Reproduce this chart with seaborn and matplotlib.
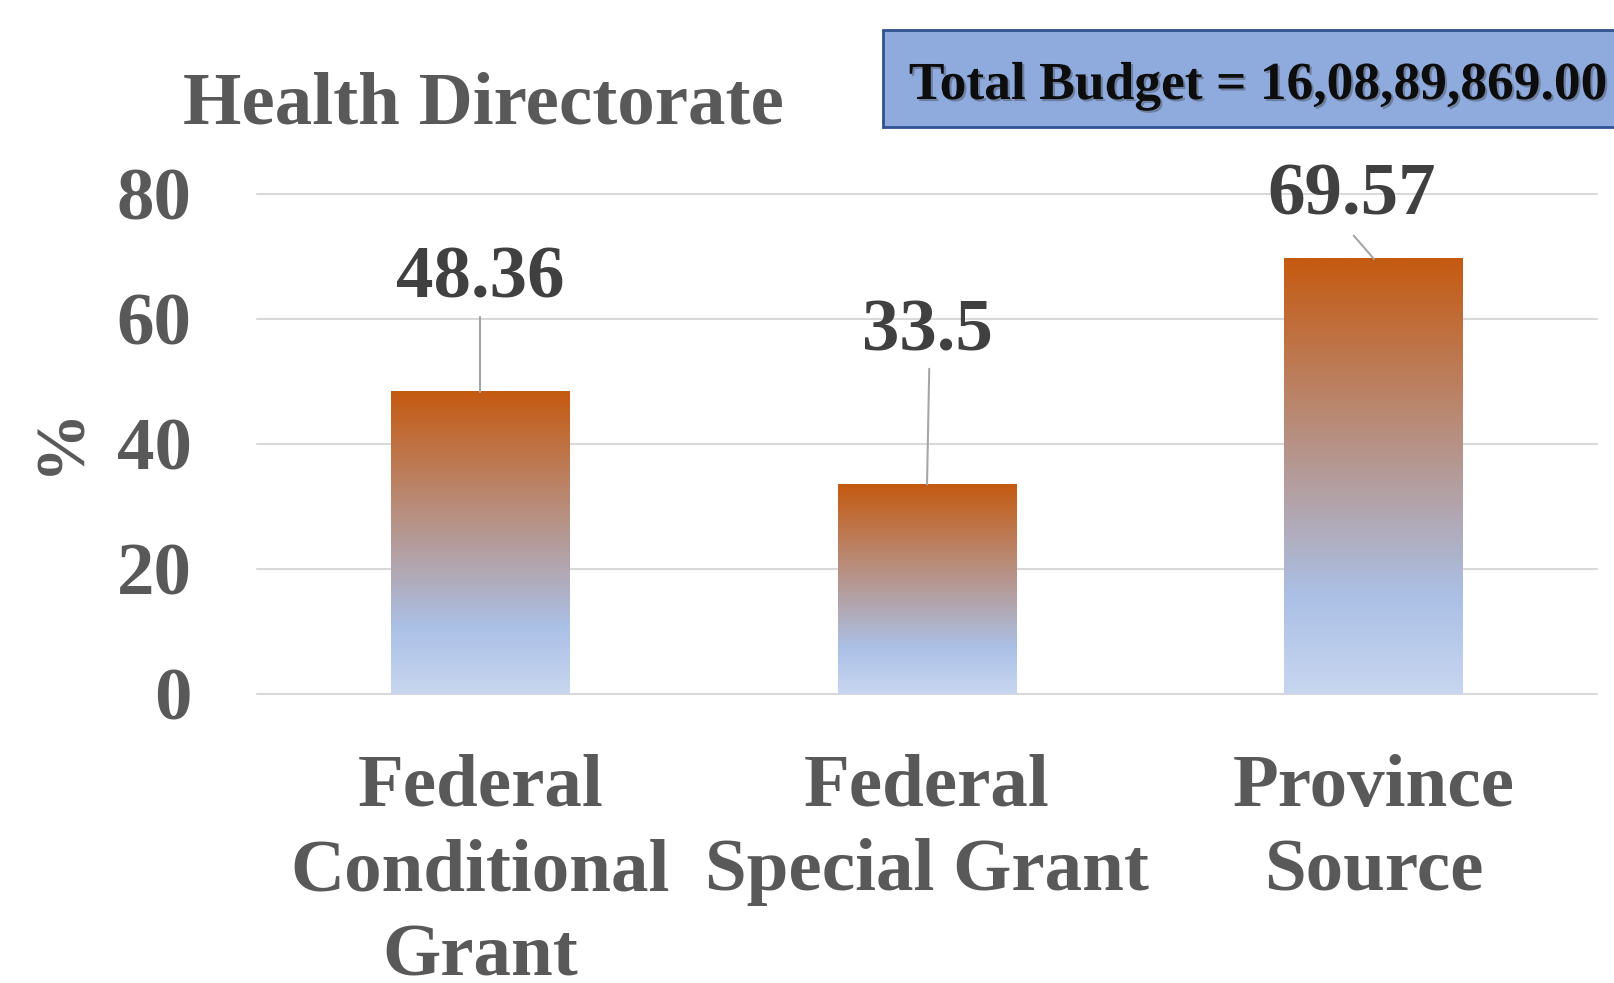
import numpy as np
import matplotlib
matplotlib.use("Agg")
import matplotlib.pyplot as plt
import matplotlib.patheffects as pe
import seaborn as sns
from matplotlib.colors import LinearSegmentedColormap
from matplotlib.patches import Rectangle

# data
categories = ["Federal\nConditional\nGrant", "Federal\nSpecial Grant", "Province\nSource"]
shares = [48.36, 33.5, 69.57]
share_labels = ["48.36", "33.5", "69.57"]
y_ticks = [0, 20, 40, 60, 80]
title = "Health Directorate"
budget_text = "Total Budget = 16,08,89,869.00"

GREY = "#595959"
LABEL_GREY = "#404040"

# orange top -> light blue bottom, like the Excel gradient fill
bar_cmap = LinearSegmentedColormap.from_list(
    "bar_grad", [(0.0, "#c8d6ef"), (0.22, "#abc0e6"), (1.0, "#c55a11")])


def gradient_bars(ax):
    grad = np.linspace(0, 1, 256).reshape(-1, 1)
    for patch in ax.patches:
        x, w, h = patch.get_x(), patch.get_width(), patch.get_height()
        patch.set_facecolor("none")
        patch.set_edgecolor("none")
        ax.imshow(grad, extent=[x, x + w, 0, h], origin="lower", aspect="auto",
                  cmap=bar_cmap, zorder=2, interpolation="bilinear")


def draw_chart():
    sns.set_theme(style="white")
    plt.rcParams["font.family"] = ["Liberation Serif", "DejaVu Serif"]
    plt.rcParams["font.weight"] = "bold"

    fig = plt.figure(figsize=(16.15, 9.83), dpi=100)
    ax = fig.add_axes([0.159, 0.294, 0.830, 0.509])

    sns.barplot(x=categories, y=shares, width=0.4, color="#c55a11", ax=ax)
    gradient_bars(ax)

    ax.set_xlim(-0.5, 2.5)
    ax.set_ylim(0, 80)
    ax.set_yticks(y_ticks)
    ax.yaxis.grid(True, color="#d9d9d9", lw=1.5, clip_on=False)
    ax.set_axisbelow(True)
    sns.despine(ax=ax, left=True, bottom=True)
    ax.tick_params(axis="y", length=0, pad=47, labelsize=54, labelcolor=GREY)
    ax.tick_params(axis="x", length=0, pad=43, labelsize=54, labelcolor=GREY)
    for t in ax.get_xticklabels():
        t.set_linespacing(1.32)
        t.set_fontweight("bold")
    for t in ax.get_yticklabels():
        t.set_fontweight("bold")
    ax.set_xlabel("")
    ax.set_ylabel("")

    # data labels with leader lines (placement as in the original)
    label_pos = [(0.0, 63.4), (0.0, 55.0), (-0.05, 76.6)]
    leader_start = [(0.0, 60.2), (0.005, 52.0), (-0.045, 73.3)]
    for i, (val, lbl) in enumerate(zip(shares, share_labels)):
        dx, ly = label_pos[i]
        ax.text(i + dx, ly, lbl, ha="center", va="baseline", fontsize=54,
                color=LABEL_GREY, fontweight="bold", clip_on=False, zorder=4)
        sx, sy = leader_start[i]
        ax.plot([i + sx, i], [sy, val], color="#a6a6a6", lw=1.5,
                clip_on=False, zorder=3)

    fig.text(0.038, 1 - 440 / 983, "%", rotation=90, ha="center", va="center",
             fontsize=50, color=GREY, fontweight="bold")
    fig.text(483 / 1615, 1 - 123 / 983, title, ha="center", va="baseline",
             fontsize=54, color=GREY, fontweight="bold")

    box = Rectangle((883 / 1615, 1 - 127 / 983), 0.47, 97 / 983,
                    transform=fig.transFigure, facecolor="#8faadc",
                    edgecolor="#2f528f", lw=2, clip_on=False)
    fig.add_artist(box)
    fig.text(1258 / 1615, 1 - 99 / 983, budget_text, ha="center", va="baseline",
             fontsize=38.5, color="#0d0d0d", fontweight="bold",
             path_effects=[pe.withSimplePatchShadow(offset=(1.5, -1.5),
                                                    shadow_rgbFace="#333333",
                                                    alpha=0.35)])

    fig.savefig("out.png", dpi=100)


if __name__ == "__main__":
    draw_chart()
